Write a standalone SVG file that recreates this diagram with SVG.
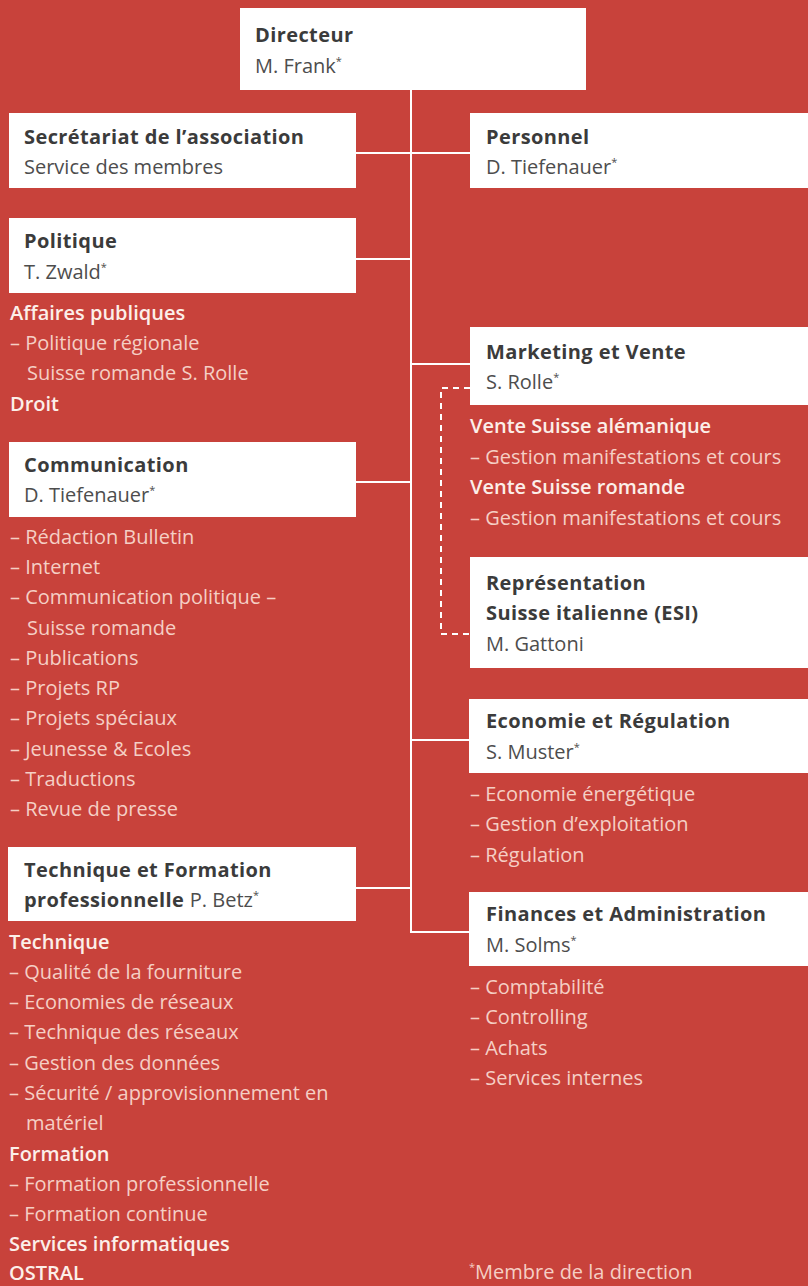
<svg xmlns="http://www.w3.org/2000/svg" width="808" height="1286" viewBox="0 0 808 1286">
  <style>
    .box { fill: #ffffff; }
    .t { font-family: "Open Sans", "Liberation Sans", sans-serif; font-size: 20px; }
    .hd { font-weight: bold; fill: #3b3b3b; letter-spacing: 0.4px; }
    .nm { fill: #4d4d4d; font-weight: normal; letter-spacing: 0; }
    .sec { font-weight: 600; fill: #fcefe9; }
    .it { fill: #f5cfc5; }
    .sup { font-size: 11px; }
    .ln { stroke: #ffffff; stroke-width: 2; fill: none; }
    .dash { stroke: #ffffff; stroke-width: 2; fill: none; stroke-dasharray: 6 5; }
  </style>

  <rect width="808" height="1286" fill="#c8423b"/>

  <!-- connectors -->
  <g id="connectors">
    <path class="ln" d="M411 90 V932 H470"/>
    <path class="ln" d="M355 153 H470"/>
    <path class="ln" d="M355 259 H411"/>
    <path class="ln" d="M411 364 H470"/>
    <path class="ln" d="M355 482 H411"/>
    <path class="ln" d="M411 740 H470"/>
    <path class="ln" d="M355 888 H411"/>
    <path class="dash" d="M470 388 H441 V634 H470"/>
  </g>

  <g id="directeur">
    <rect class="box" x="240" y="8" width="346" height="82"/>
    <text class="t hd" x="255" y="42">Directeur</text>
    <text class="t nm" x="255" y="73">M. Frank<tspan class="sup" dy="-8">*</tspan></text>
  </g>

  <g id="secretariat">
    <rect class="box" x="9" y="113" width="347" height="75"/>
    <text class="t hd" x="24" y="144">Secrétariat de l’association</text>
    <text class="t nm" x="24" y="174">Service des membres</text>
  </g>

  <g id="personnel">
    <rect class="box" x="470" y="113" width="338" height="75"/>
    <text class="t hd" x="486" y="144">Personnel</text>
    <text class="t nm" x="486" y="174">D. Tiefenauer<tspan class="sup" dy="-8">*</tspan></text>
  </g>

  <g id="politique">
    <rect class="box" x="9" y="218" width="347" height="75"/>
    <text class="t hd" x="24" y="248">Politique</text>
    <text class="t nm" x="24" y="279">T. Zwald<tspan class="sup" dy="-8">*</tspan></text>
    <text class="t sec" x="10" y="320">Affaires publiques</text>
    <text class="t it" x="10" y="350">– Politique régionale</text>
    <text class="t it" x="27" y="380">Suisse romande S. Rolle</text>
    <text class="t sec" x="10" y="411">Droit</text>
  </g>

  <g id="communication">
    <rect class="box" x="9" y="442" width="347" height="75"/>
    <text class="t hd" x="24" y="472">Communication</text>
    <text class="t nm" x="24" y="502">D. Tiefenauer<tspan class="sup" dy="-8">*</tspan></text>
    <text class="t it" x="10" y="544">– Rédaction Bulletin</text>
    <text class="t it" x="10" y="574">– Internet</text>
    <text class="t it" x="10" y="604">– Communication politique –</text>
    <text class="t it" x="27" y="635">Suisse romande</text>
    <text class="t it" x="10" y="665">– Publications</text>
    <text class="t it" x="10" y="695">– Projets RP</text>
    <text class="t it" x="10" y="725">– Projets spéciaux</text>
    <text class="t it" x="10" y="756">– Jeunesse &amp; Ecoles</text>
    <text class="t it" x="10" y="786">– Traductions</text>
    <text class="t it" x="10" y="816">– Revue de presse</text>
  </g>

  <g id="technique">
    <rect class="box" x="8" y="847" width="348" height="74"/>
    <text class="t hd" x="24" y="877">Technique et Formation</text>
    <text class="t hd" x="24" y="907">professionnelle <tspan class="nm">P. Betz</tspan><tspan class="sup nm" dy="-8">*</tspan></text>
    <text class="t sec" x="9" y="949">Technique</text>
    <text class="t it" x="9" y="979">– Qualité de la fourniture</text>
    <text class="t it" x="9" y="1009">– Economies de réseaux</text>
    <text class="t it" x="9" y="1039">– Technique des réseaux</text>
    <text class="t it" x="9" y="1070">– Gestion des données</text>
    <text class="t it" x="9" y="1100">– Sécurité / approvisionnement en</text>
    <text class="t it" x="26" y="1130">matériel</text>
    <text class="t sec" x="9" y="1161">Formation</text>
    <text class="t it" x="9" y="1191">– Formation professionnelle</text>
    <text class="t it" x="9" y="1221">– Formation continue</text>
    <text class="t sec" x="9" y="1251">Services informatiques</text>
    <text class="t sec" x="9" y="1280">OSTRAL</text>
  </g>

  <g id="marketing">
    <rect class="box" x="470" y="327" width="338" height="78"/>
    <text class="t hd" x="486" y="359">Marketing et Vente</text>
    <text class="t nm" x="486" y="389">S. Rolle<tspan class="sup" dy="-8">*</tspan></text>
    <text class="t sec" x="470" y="433">Vente Suisse alémanique</text>
    <text class="t it" x="470" y="464">– Gestion manifestations et cours</text>
    <text class="t sec" x="470" y="494">Vente Suisse romande</text>
    <text class="t it" x="470" y="525">– Gestion manifestations et cours</text>
  </g>

  <g id="representation">
    <rect class="box" x="470" y="557" width="338" height="111"/>
    <text class="t hd" x="486" y="590">Représentation</text>
    <text class="t hd" x="486" y="620">Suisse italienne (ESI)</text>
    <text class="t nm" x="486" y="651">M. Gattoni</text>
  </g>

  <g id="economie">
    <rect class="box" x="469" y="699" width="339" height="74"/>
    <text class="t hd" x="486" y="728">Economie et Régulation</text>
    <text class="t nm" x="486" y="759">S. Muster<tspan class="sup" dy="-8">*</tspan></text>
    <text class="t it" x="470" y="801">– Economie énergétique</text>
    <text class="t it" x="470" y="831">– Gestion d’exploitation</text>
    <text class="t it" x="470" y="862">– Régulation</text>
  </g>

  <g id="finances">
    <rect class="box" x="469" y="892" width="339" height="74"/>
    <text class="t hd" x="486" y="921">Finances et Administration</text>
    <text class="t nm" x="486" y="952">M. Solms<tspan class="sup" dy="-8">*</tspan></text>
    <text class="t it" x="470" y="994">– Comptabilité</text>
    <text class="t it" x="470" y="1024">– Controlling</text>
    <text class="t it" x="470" y="1055">– Achats</text>
    <text class="t it" x="470" y="1085">– Services internes</text>
  </g>

  <g id="legende">
    <text class="t it" x="469" y="1279"><tspan class="sup" dy="-8">*</tspan><tspan dy="8">Membre de la direction</tspan></text>
  </g>
</svg>
